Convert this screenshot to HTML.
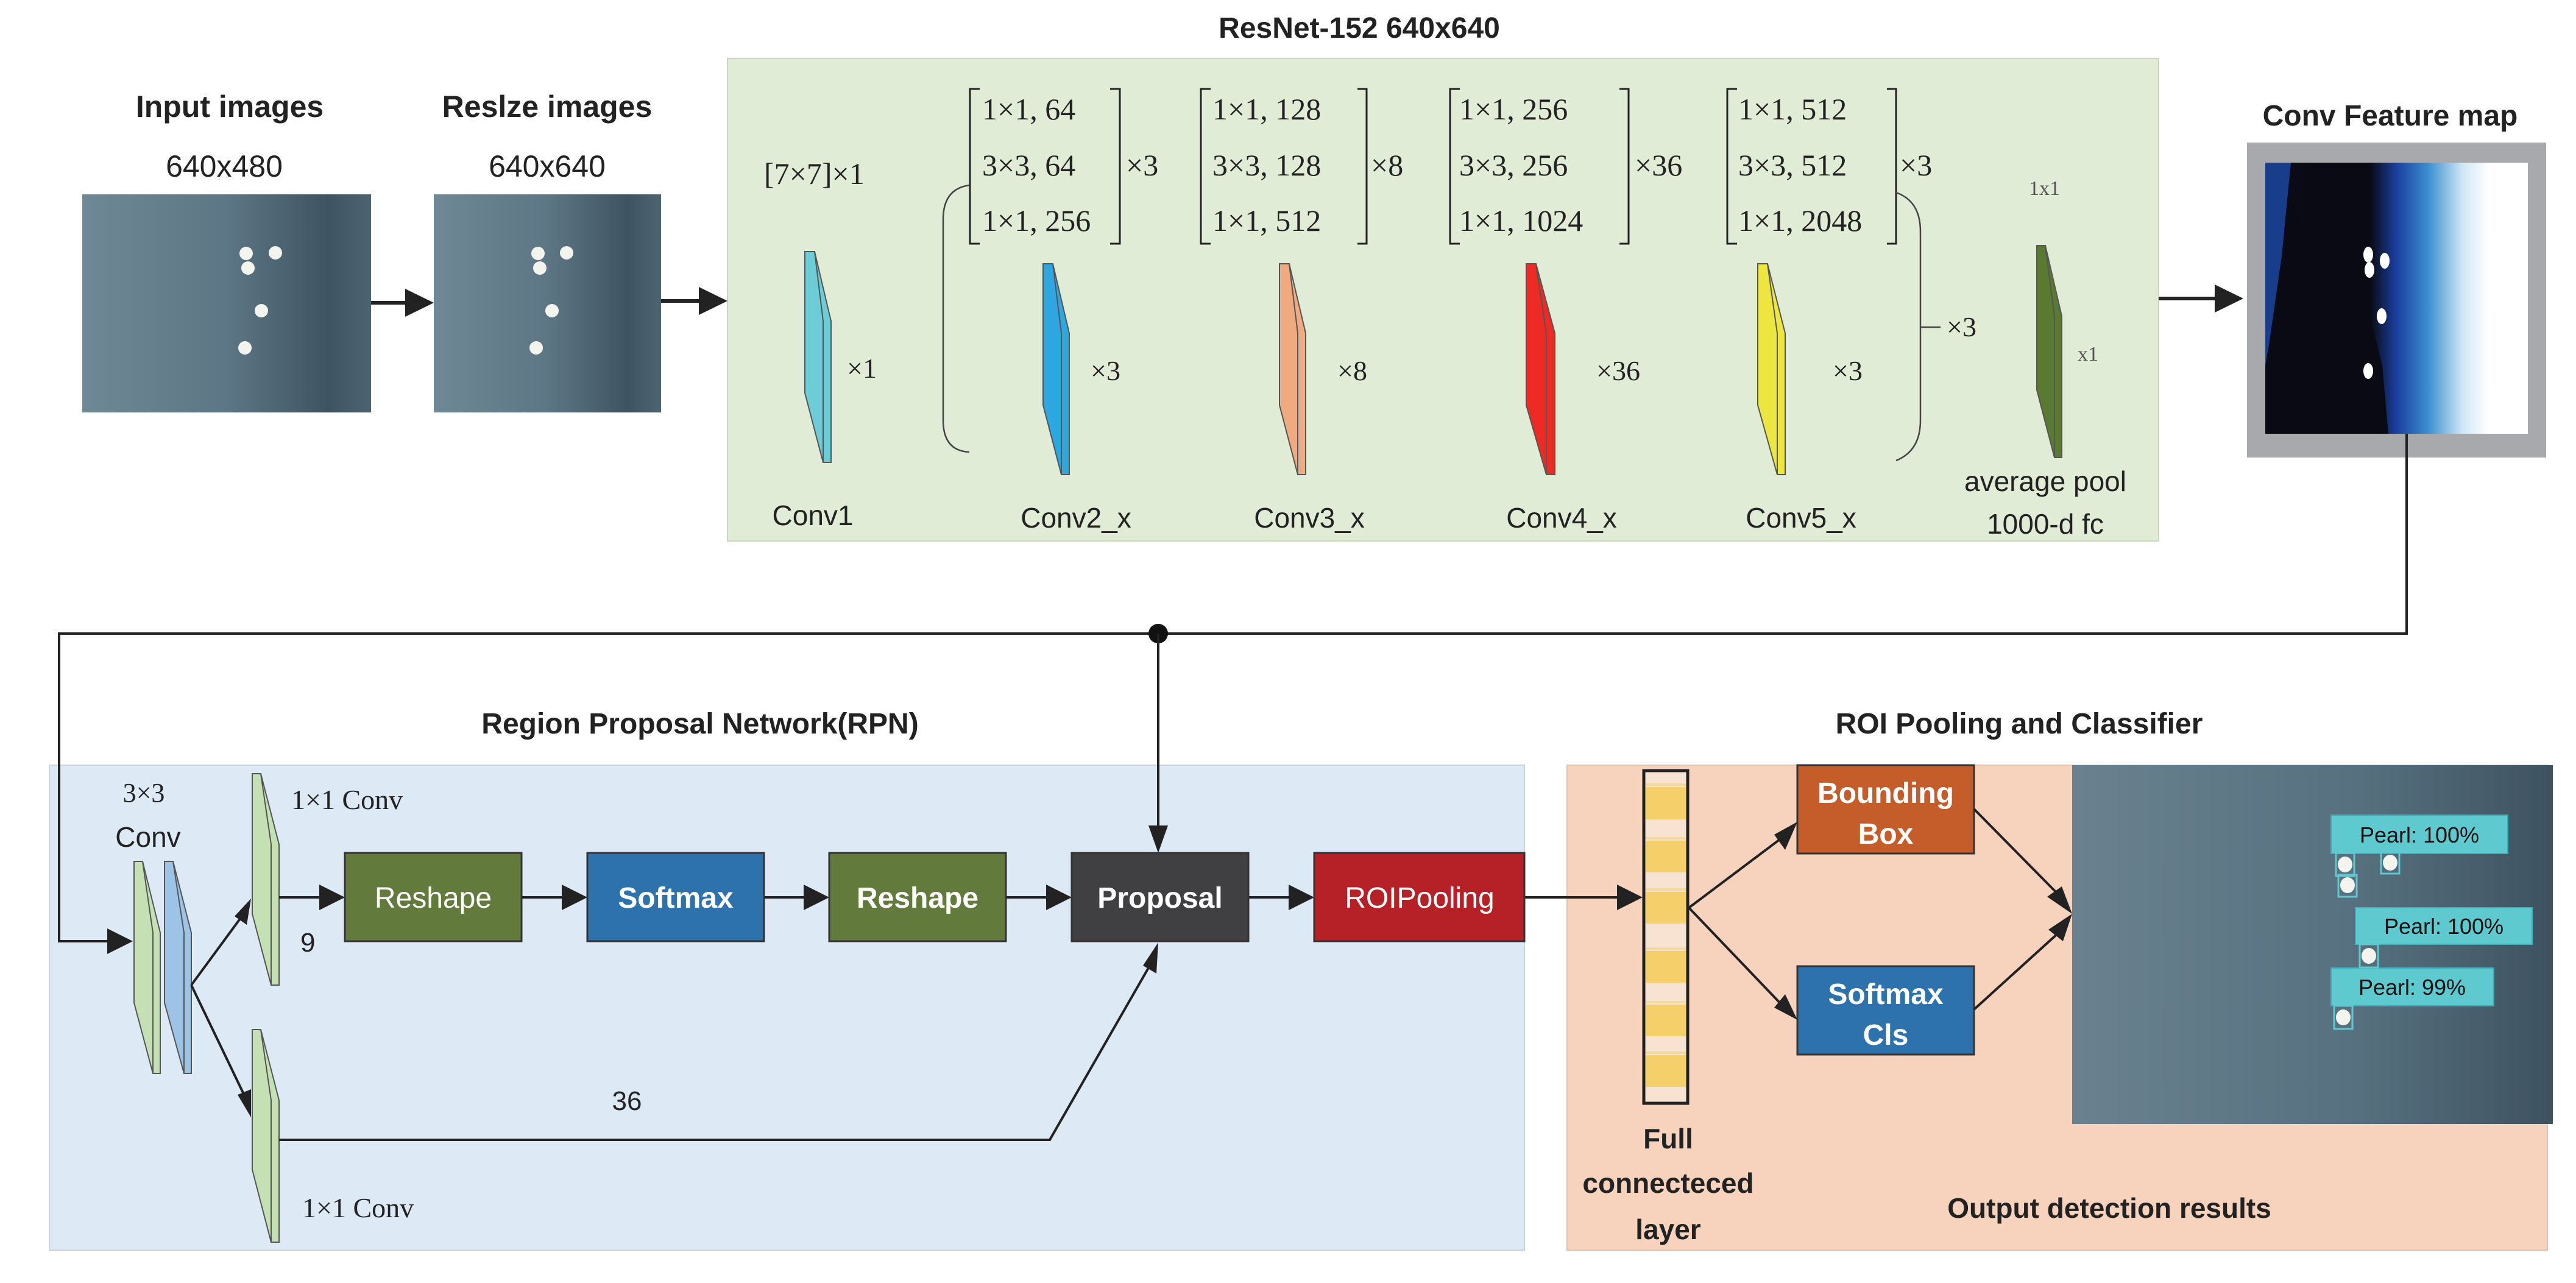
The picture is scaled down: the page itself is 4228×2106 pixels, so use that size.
<!DOCTYPE html>
<html><head><meta charset="utf-8"><style>
html,body{margin:0;padding:0;background:#fff;}
svg{display:block}
.t{font-family:"Liberation Sans",sans-serif;}
.s{font-family:"Liberation Serif",serif;}
</style></head><body>
<svg width="4228" height="2106" viewBox="0 0 4228 2106" xmlns="http://www.w3.org/2000/svg">
<defs>
<linearGradient id="img" x1="0" y1="0" x2="1" y2="0">
<stop offset="0" stop-color="#6f8896"/><stop offset="0.5" stop-color="#5d7685"/><stop offset="0.85" stop-color="#3f5462"/><stop offset="1" stop-color="#4c6372"/>
</linearGradient>
<linearGradient id="img2" x1="0" y1="0" x2="1" y2="0">
<stop offset="0" stop-color="#6a8290"/><stop offset="0.6" stop-color="#56707f"/><stop offset="1" stop-color="#3e5260"/>
</linearGradient>
<linearGradient id="fm" x1="0" y1="0" x2="1" y2="0">
<stop offset="0" stop-color="#0b0b18"/><stop offset="0.4" stop-color="#0a0a14"/><stop offset="0.5" stop-color="#1a3fa0"/><stop offset="0.62" stop-color="#3b8fd0"/><stop offset="0.75" stop-color="#cfe6f5"/><stop offset="0.85" stop-color="#ffffff"/>
</linearGradient>
</defs>

<!-- panels first -->
<rect x="1194" y="96" width="2349" height="792" fill="#e0ecd6" stroke="#c8d6bd" stroke-width="2"/>
<rect x="81" y="1256" width="2421" height="796" fill="#dde9f5" stroke="#c8d4e0" stroke-width="2"/>
<rect x="2572" y="1256" width="1609" height="796" fill="#f7d3bd" stroke="#e6c2ad" stroke-width="2"/>

<!-- Top titles -->
<text class="t" x="377" y="192" font-size="50" font-weight="bold" text-anchor="middle" fill="#222">Input images</text>
<text class="t" x="368" y="290" font-size="50" text-anchor="middle" fill="#222">640x480</text>
<text class="t" x="898" y="192" font-size="50" font-weight="bold" text-anchor="middle" fill="#222">Reslze images</text>
<text class="t" x="898" y="290" font-size="50" text-anchor="middle" fill="#222">640x640</text>

<rect x="135" y="319" width="474" height="358" fill="url(#img)"/>
<rect x="712" y="319" width="373" height="358" fill="url(#img)"/>
<g fill="#f4f4ee">
<ellipse cx="404" cy="416" rx="11" ry="11"/><ellipse cx="452" cy="415" rx="11" ry="11"/><ellipse cx="407" cy="440" rx="11" ry="11"/><ellipse cx="429" cy="510" rx="11" ry="11"/><ellipse cx="402" cy="571" rx="11" ry="11"/>
<ellipse cx="883" cy="416" rx="11" ry="11"/><ellipse cx="930" cy="415" rx="11" ry="11"/><ellipse cx="886" cy="440" rx="11" ry="11"/><ellipse cx="906" cy="510" rx="11" ry="11"/><ellipse cx="880" cy="571" rx="11" ry="11"/>
</g>
<g stroke="#222" stroke-width="6" fill="#222">
<line x1="609" y1="497" x2="670" y2="497"/><polygon points="712,497 665,474 665,520" stroke="none"/>
<line x1="1085" y1="494" x2="1150" y2="494"/><polygon points="1194,494 1147,471 1147,517" stroke="none"/>
</g>

<text class="t" x="2231" y="62" font-size="48" font-weight="bold" text-anchor="middle" fill="#222">ResNet-152 640x640</text>

<text class="s" x="1254" y="302" font-size="50" fill="#222">[7×7]×1</text>

<g class="s" font-size="50" fill="#222">
<text x="1612" y="196">1×1,  64</text><text x="1612" y="288">3×3, 64</text><text x="1612" y="379">1×1, 256</text>
<text x="1848" y="288">×3</text>
<text x="1990" y="196">1×1,  128</text><text x="1990" y="288">3×3, 128</text><text x="1990" y="379">1×1,  512</text>
<text x="2250" y="288">×8</text>
<text x="2395" y="196">1×1,  256</text><text x="2395" y="288">3×3, 256</text><text x="2395" y="379">1×1,  1024</text>
<text x="2683" y="288">×36</text>
<text x="2853" y="196">1×1,  512</text><text x="2853" y="288">3×3, 512</text><text x="2853" y="379">1×1, 2048</text>
<text x="3118" y="288">×3</text>
</g>
<g stroke="#222" stroke-width="3" fill="none">
<polyline points="1608,146 1592,146 1592,400 1608,400"/><polyline points="1822,146 1838,146 1838,400 1822,400"/>
<polyline points="1987,146 1971,146 1971,400 1987,400"/><polyline points="2228,146 2243,146 2243,400 2228,400"/>
<polyline points="2396,146 2380,146 2380,400 2396,400"/><polyline points="2658,146 2673,146 2673,400 2658,400"/>
<polyline points="2851,146 2835,146 2835,400 2851,400"/><polyline points="3097,146 3112,146 3112,400 3097,400"/>
</g>
<g stroke="#444" stroke-width="2.5" fill="none">
<path d="M1591,304 Q1548,310 1548,360 L1548,690 Q1548,740 1591,742"/>
<path d="M3112,316 Q3152,330 3152,380 L3152,690 Q3152,740 3112,756"/>
<line x1="3152" y1="537" x2="3185" y2="537"/>
</g>
<text class="s" x="3195" y="552" font-size="46" fill="#222">×3</text>

<g stroke="#555" stroke-width="2">
<polygon points="1321,413 1337,413 1364,527 1364,759 1351,759 1321,645" fill="#6ccdd6"/>
<line x1="1351" y1="527" x2="1351" y2="759"/><line x1="1337" y1="413" x2="1351" y2="527"/>
<polygon points="1712,433 1728,433 1755,547 1755,779 1742,779 1712,665" fill="#2ea6e0"/>
<line x1="1742" y1="547" x2="1742" y2="779"/><line x1="1728" y1="433" x2="1742" y2="547"/>
<polygon points="2100,433 2116,433 2143,547 2143,779 2130,779 2100,665" fill="#f0aa80"/>
<line x1="2130" y1="547" x2="2130" y2="779"/><line x1="2116" y1="433" x2="2130" y2="547"/>
<polygon points="2505,433 2521,433 2552,547 2552,779 2538,779 2505,665" fill="#ee2a24"/>
<line x1="2538" y1="547" x2="2538" y2="779"/><line x1="2521" y1="433" x2="2538" y2="547"/>
<polygon points="2885,433 2901,433 2930,547 2930,779 2917,779 2885,665" fill="#eee640"/>
<line x1="2917" y1="547" x2="2917" y2="779"/><line x1="2901" y1="433" x2="2917" y2="547"/>
<polygon points="3343,403 3357,403 3384,519 3384,751 3372,751 3343,640" fill="#5a7a32"/>
<line x1="3372" y1="519" x2="3372" y2="751"/><line x1="3357" y1="403" x2="3372" y2="519"/>
</g>
<g class="s" font-size="46" fill="#222">
<text x="1390" y="620">×1</text><text x="1790" y="624">×3</text><text x="2195" y="624">×8</text>
<text x="2620" y="624">×36</text><text x="3008" y="624">×3</text>
</g>
<text class="s" x="3330" y="320" font-size="34" fill="#555">1x1</text>
<text class="s" x="3410" y="592" font-size="34" fill="#555">x1</text>
<g class="t" font-size="46" fill="#222" text-anchor="middle">
<text x="1334" y="862">Conv1</text><text x="1766" y="866">Conv2_x</text><text x="2149" y="866">Conv3_x</text>
<text x="2563" y="866">Conv4_x</text><text x="2956" y="866">Conv5_x</text>
<text x="3357" y="806">average pool</text><text x="3357" y="876">1000-d fc</text>
</g>

<line x1="3543" y1="490" x2="3640" y2="490" stroke="#222" stroke-width="6"/>
<polygon points="3682,490 3635,467 3635,513" fill="#222"/>
<text class="t" x="3923" y="206" font-size="48" font-weight="bold" text-anchor="middle" fill="#222">Conv Feature map</text>
<rect x="3688" y="234" width="491" height="517" fill="#a8a9ad"/>
<rect x="3718" y="267" width="431" height="445" fill="url(#fm)"/>
<polygon points="3718,267 3740,267 3760,330 3790,400 3800,300 3840,267 3870,350 3890,520 3910,600 3920,712 3718,712" fill="#0a0a14"/>
<polygon points="3718,267 3760,267 3745,420 3725,560 3718,600" fill="#1c4aa8" opacity="0.8"/>
<g fill="#fff"><ellipse cx="3887" cy="418" rx="8" ry="13"/><ellipse cx="3914" cy="428" rx="8" ry="13"/><ellipse cx="3889" cy="443" rx="8" ry="13"/><ellipse cx="3909" cy="519" rx="8" ry="13"/><ellipse cx="3887" cy="609" rx="8" ry="13"/></g>

<polyline points="3950,712 3950,1040 97,1040 97,1545 176,1545" fill="none" stroke="#222" stroke-width="4"/>
<polygon points="218,1545 176,1524 176,1566" fill="#222"/>
<circle cx="1901" cy="1040" r="16" fill="#111"/>

<text class="t" x="1149" y="1204" font-size="48" font-weight="bold" text-anchor="middle" fill="#222">Region Proposal Network(RPN)</text>
<line x1="1901" y1="1040" x2="1901" y2="1360" stroke="#222" stroke-width="4"/>
<polygon points="1901,1400 1885,1355 1917,1355" fill="#222"/>

<text class="s" x="236" y="1316" font-size="44" text-anchor="middle" fill="#222">3×3</text>
<text class="t" x="243" y="1390" font-size="46" text-anchor="middle" fill="#222">Conv</text>
<g stroke="#555" stroke-width="2">
<polygon points="220,1414 234,1414 263,1531 263,1762 251,1762 220,1646" fill="#c5e0b4"/>
<line x1="251" y1="1531" x2="251" y2="1762"/><line x1="234" y1="1414" x2="251" y2="1531"/>
<polygon points="270,1414 284,1414 314,1531 314,1762 302,1762 270,1646" fill="#9dc3e6"/>
<line x1="302" y1="1531" x2="302" y2="1762"/><line x1="284" y1="1414" x2="302" y2="1531"/>
<polygon points="414,1270 428,1270 458,1386 458,1617 445,1617 414,1500" fill="#c5e0b4"/>
<line x1="445" y1="1386" x2="445" y2="1617"/><line x1="428" y1="1270" x2="445" y2="1386"/>
<polygon points="414,1690 428,1690 458,1806 458,2039 445,2039 414,1920" fill="#c5e0b4"/>
<line x1="445" y1="1806" x2="445" y2="2039"/><line x1="428" y1="1690" x2="445" y2="1806"/>
</g>
<text class="s" x="478" y="1328" font-size="46" fill="#222">1×1 Conv</text>
<text class="s" x="496" y="1998" font-size="46" fill="#222">1×1 Conv</text>
<text class="t" x="493" y="1562" font-size="44" fill="#222">9</text>
<text class="t" x="1029" y="1822" font-size="44" text-anchor="middle" fill="#222">36</text>

<g stroke="#222" stroke-width="4" fill="none">
<line x1="314" y1="1617" x2="400" y2="1500"/>
<line x1="314" y1="1617" x2="402" y2="1800"/>
<polyline points="458,1871 1723,1871 1890,1580"/>
<line x1="458" y1="1473" x2="526" y2="1473"/>
<line x1="856" y1="1473" x2="924" y2="1473"/>
<line x1="1254" y1="1473" x2="1321" y2="1473"/>
<line x1="1651" y1="1473" x2="1719" y2="1473"/>
<line x1="2049" y1="1473" x2="2117" y2="1473"/>
<line x1="2502" y1="1473" x2="2656" y2="1473"/>
</g>
<g fill="#222">
<polygon points="412,1475 405,1518 385,1504"/>
<polygon points="412,1834 390,1797 412,1788"/>
<polygon points="1901,1547 1898,1598 1876,1585"/>
<polygon points="566,1473 524,1452 524,1494"/>
<polygon points="964,1473 922,1452 922,1494"/>
<polygon points="1361,1473 1319,1452 1319,1494"/>
<polygon points="1759,1473 1717,1452 1717,1494"/>
<polygon points="2157,1473 2115,1452 2115,1494"/>
<polygon points="2696,1473 2654,1452 2654,1494"/>
</g>

<g stroke="#333" stroke-width="3">
<rect x="566" y="1400" width="290" height="145" fill="#627a3c"/>
<rect x="964" y="1400" width="290" height="145" fill="#2e72ad"/>
<rect x="1361" y="1400" width="290" height="145" fill="#627a3c"/>
<rect x="1759" y="1400" width="290" height="145" fill="#404042"/>
<rect x="2157" y="1400" width="345" height="145" fill="#b52127"/>
</g>
<g class="t" font-size="48" fill="#fff" text-anchor="middle">
<text x="711" y="1490">Reshape</text>
<text x="1109" y="1490" font-weight="bold">Softmax</text>
<text x="1506" y="1490" font-weight="bold">Reshape</text>
<text x="1904" y="1490" font-weight="bold">Proposal</text>
<text x="2330" y="1490">ROIPooling</text>
</g>

<text class="t" x="3314" y="1204" font-size="48" font-weight="bold" text-anchor="middle" fill="#222">ROI Pooling and Classifier</text>
<rect x="2698" y="1265" width="72" height="546" fill="#f8e2d2" stroke="#222" stroke-width="5"/>
<g fill="#f5d06a">
<rect x="2701" y="1292" width="66" height="53"/><rect x="2701" y="1380" width="66" height="52"/>
<rect x="2701" y="1464" width="66" height="52"/><rect x="2701" y="1561" width="66" height="52"/>
<rect x="2701" y="1649" width="66" height="52"/><rect x="2701" y="1732" width="66" height="52"/>
</g>
<g fill="#f3d9a0"><rect x="2701" y="1286" width="66" height="4"/><rect x="2701" y="1374" width="66" height="4"/><rect x="2701" y="1458" width="66" height="4"/><rect x="2701" y="1555" width="66" height="4"/><rect x="2701" y="1643" width="66" height="4"/><rect x="2701" y="1726" width="66" height="4"/></g>

<g stroke="#333" stroke-width="3">
<rect x="2950" y="1256" width="290" height="145" fill="#c55d2a"/>
<rect x="2950" y="1586" width="290" height="145" fill="#2e72ad"/>
</g>
<g class="t" font-size="48" fill="#fff" text-anchor="middle" font-weight="bold">
<text x="3095" y="1318">Bounding</text><text x="3095" y="1385">Box</text>
<text x="3095" y="1648">Softmax</text><text x="3095" y="1715">Cls</text>
</g>
<g stroke="#222" stroke-width="4" fill="none">
<line x1="2772" y1="1490" x2="2925" y2="1375"/>
<line x1="2772" y1="1490" x2="2925" y2="1650"/>
<line x1="3240" y1="1328" x2="3380" y2="1470"/>
<line x1="3240" y1="1657" x2="3380" y2="1530"/>
</g>
<g fill="#222">
<polygon points="2950,1349 2930,1395 2912,1370"/>
<polygon points="2950,1674 2912,1654 2930,1632"/>
<polygon points="3401,1500 3360,1472 3384,1455"/>
<polygon points="3401,1500 3386,1545 3362,1526"/>
</g>

<rect x="3401" y="1256" width="789" height="589" fill="url(#img2)"/>
<g fill="#5fc9d0" stroke="#3fb0b8" stroke-width="2">
<rect x="3826" y="1338" width="290" height="63"/>
<rect x="3866" y="1490" width="290" height="60"/>
<rect x="3826" y="1589" width="267" height="62"/>
</g>
<g class="t" font-size="36" fill="#111" text-anchor="middle">
<text x="3971" y="1383">Pearl: 100%</text>
<text x="4011" y="1533">Pearl: 100%</text>
<text x="3959" y="1633">Pearl: 99%</text>
</g>
<g fill="none" stroke="#5fc9d0" stroke-width="3">
<rect x="3834" y="1400" width="30" height="38"/><rect x="3908" y="1398" width="30" height="36"/>
<rect x="3838" y="1436" width="30" height="36"/><rect x="3873" y="1550" width="30" height="38"/>
<rect x="3831" y="1651" width="30" height="38"/>
</g>
<g fill="#f4f4ee">
<ellipse cx="3849" cy="1419" rx="12" ry="13"/><ellipse cx="3923" cy="1416" rx="12" ry="13"/><ellipse cx="3853" cy="1453" rx="12" ry="13"/><ellipse cx="3888" cy="1569" rx="12" ry="13"/><ellipse cx="3846" cy="1670" rx="12" ry="13"/>
</g>

<g class="t" font-size="46" font-weight="bold" fill="#222" text-anchor="middle">
<text x="2738" y="1885">Full</text><text x="2738" y="1958">connecteced</text><text x="2738" y="2034">layer</text>
<text x="3462" y="1999">Output detection results</text>
</g>
</svg>
</body></html>
